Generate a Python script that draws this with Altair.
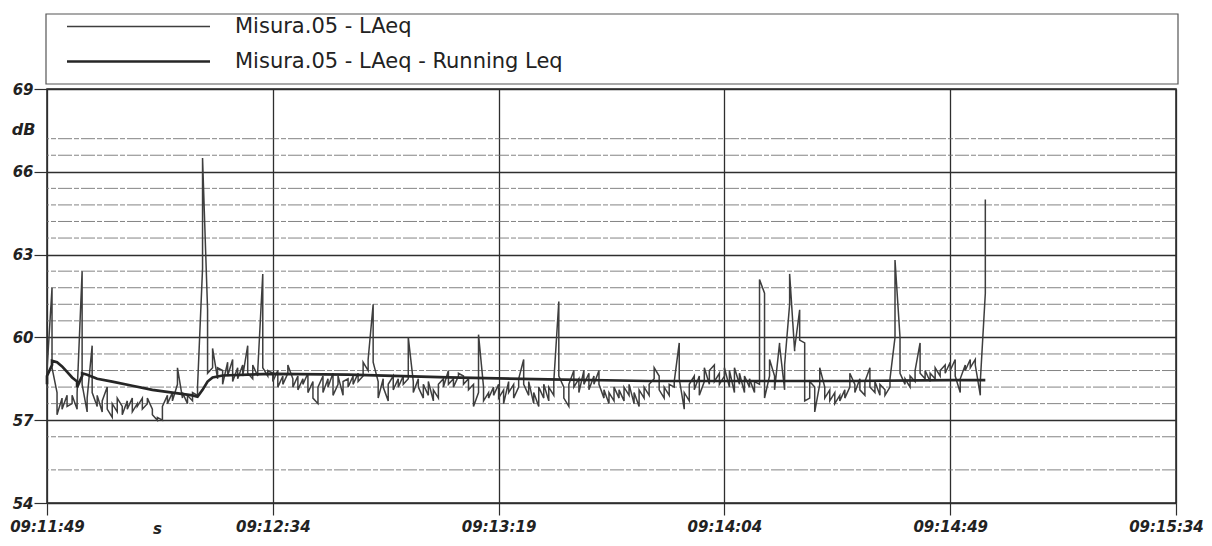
import altair as alt
import pandas as pd

# ---------------- data ----------------
TICK_LABELS = ["09:11:49", "09:12:34", "09:13:19", "09:14:04", "09:14:49", "09:15:34"]
Y_TICKS = [54, 57, 60, 63, 66, 69]
MINOR_GRID = [55.2, 56.4, 57.6, 58.2, 58.8, 59.4, 60.6, 61.2, 61.8, 62.4,
              63.6, 64.2, 64.8, 65.4, 66.6, 67.2]
SERIES = ["Misura.05 - LAeq", "Misura.05 - LAeq - Running Leq"]
STEP_S = 0.5  # sampling interval of the LAeq series (s)

LAEQ = [
    58.3, 58.8, 61.8, 58.9, 58.0, 57.2, 57.8, 57.4, 57.9, 57.5,
    57.6, 57.9, 57.4, 58.0, 62.4, 58.3, 57.3, 57.8, 59.7, 58.0,
    57.5, 57.9, 57.3, 57.7, 58.2, 57.4, 57.1, 57.6, 57.3, 57.8,
    57.5, 57.2, 57.7, 57.4, 57.8, 57.3, 57.6, 57.5, 57.8, 57.4,
    57.6, 57.8, 57.4, 57.2, 57.0, 57.1, 57.0, 57.5, 57.9, 57.6,
    58.0, 57.7, 58.3, 58.9, 57.8, 58.0, 57.6, 57.9, 57.7, 58.0,
    57.9, 58.2, 62.5, 66.5, 61.0, 58.7, 58.9, 59.6, 58.5, 58.9,
    58.8, 58.3, 59.1, 58.6, 59.2, 58.4, 58.9, 58.5, 59.0, 58.6,
    59.7, 58.7, 58.5, 59.0, 58.6, 58.8, 62.3, 58.9, 58.6, 58.8,
    58.7, 58.4, 58.8, 58.2, 58.6, 58.3, 58.7, 59.0, 58.5, 58.2,
    58.6, 58.1, 58.5, 58.3, 58.7, 58.0, 58.4, 57.8, 57.6, 58.2,
    58.6, 58.0, 58.5, 58.2, 58.7, 57.9, 58.3, 58.6, 57.9, 58.4,
    58.5, 58.2, 58.6, 58.3, 58.7, 58.4, 58.6, 59.1, 58.8, 59.2,
    61.2, 59.1, 58.4, 57.8, 58.5, 58.2, 57.7, 58.3, 58.6, 58.1,
    58.5, 58.2, 58.6, 58.3, 58.5, 60.0, 58.4, 58.0, 58.5, 58.2,
    57.8, 58.3, 57.9, 58.4, 57.7, 58.1, 57.8, 58.3, 58.5, 58.2,
    58.8, 58.3, 58.5, 58.2, 58.6, 58.7, 58.6, 58.3, 58.5, 58.1,
    58.3, 57.5, 58.0, 60.1, 58.2, 57.7, 58.0, 57.8, 58.2, 57.9,
    58.3, 57.8, 58.1, 57.6, 58.4, 58.0, 58.3, 57.8, 58.2, 58.5,
    59.2, 58.3, 57.9, 58.4, 57.6, 58.0, 57.5, 58.2, 57.8, 58.3,
    57.7, 58.2, 57.9, 58.4, 61.3, 58.6, 58.2, 57.8, 57.5, 58.3,
    58.8, 58.2, 58.5, 58.0, 58.8, 58.3, 58.7, 58.1, 58.6, 58.3,
    58.8, 58.3, 57.8, 58.1, 57.6, 58.0, 57.7, 58.2, 57.8, 58.1,
    57.7, 58.2, 57.9, 58.3, 57.6, 58.0, 57.5, 58.1, 57.8, 58.2,
    57.9, 58.3, 58.5, 58.9, 58.6, 58.1, 57.8, 58.2, 57.9, 58.3,
    58.2, 58.4, 59.8, 58.5, 57.4, 58.0, 57.7, 58.3, 58.6, 58.1,
    58.6, 57.9, 58.4, 58.9, 58.3, 58.8, 59.0, 58.4, 58.7, 58.3,
    58.6, 58.9, 58.2, 58.8, 58.0, 58.9, 58.3, 58.7, 58.0, 58.6,
    58.2, 58.5, 58.0, 58.4, 58.3, 62.1, 61.6, 57.8, 58.6, 59.2,
    58.6, 58.1, 59.8, 59.7, 58.1, 59.0, 61.2, 62.3, 59.5, 59.6,
    61.0, 59.9, 59.8, 57.7, 57.8, 58.4, 58.2, 57.3, 58.3, 58.9,
    58.2, 57.8, 58.1, 57.7, 58.0, 57.6, 57.9, 57.7, 58.1, 57.8,
    58.2, 58.7, 58.3, 58.0, 58.5, 58.1, 57.9, 58.4, 58.9, 58.2,
    58.0, 58.4, 57.9, 58.3, 58.1, 57.9, 58.2, 58.5, 60.0, 62.8,
    60.0, 58.7, 58.3, 58.5, 58.2, 58.6, 58.4, 58.8, 59.8, 58.7,
    58.5, 58.8, 58.4, 58.7, 58.5, 58.9, 58.6, 58.8, 59.0, 58.7,
    59.1, 58.8, 59.2, 58.6, 58.0, 58.5, 59.0, 58.8, 59.2, 58.9,
    59.2, 59.0, 57.9, 58.4, 61.6, 65.0,
]

RL_T = [0, 0.5, 1.0, 1.5, 2.0, 3.0, 4.0, 5.0, 6.0, 6.5, 7.0, 7.5, 8.5, 10, 13, 17,
        21, 25, 29, 30.5, 31.5, 32.5, 33.5, 35, 45, 60, 80, 100, 120, 140, 160, 180, 187.5]
RL_V = [58.3, 58.6, 59.0, 59.15, 59.1, 58.95, 58.75, 58.55, 58.4, 58.2, 58.6, 58.7,
        58.65, 58.5, 58.4, 58.25, 58.1, 58.0, 57.9, 57.85, 58.1, 58.4, 58.55, 58.62,
        58.68, 58.65, 58.55, 58.48, 58.42, 58.42, 58.42, 58.45, 58.45]

# ---------------- tables ----------------
DAY = "2000-01-01"
t0 = pd.Timestamp(f"{DAY} {TICK_LABELS[0]}")
laeq = pd.DataFrame({
    "time": [t0 + pd.Timedelta(seconds=i * STEP_S) for i in range(len(LAEQ))],
    "value": LAEQ,
    "series": SERIES[0],
})
run = pd.DataFrame({
    "time": [t0 + pd.Timedelta(seconds=s) for s in RL_T],
    "value": RL_V,
    "series": SERIES[1],
})
df = pd.concat([laeq, run], ignore_index=True)
df["time"] = df["time"].dt.strftime("%Y-%m-%dT%H:%M:%S")


def dt(label):
    h, m, s = (int(p) for p in label.split(":"))
    return alt.DateTime(year=2000, month=1, date=1, hours=h, minutes=m, seconds=s)


TICK_DT = [dt(l) for l in TICK_LABELS]

W, H = 1129, 414
FONT = "DejaVu Sans"
INK = "#222222"
GRID = "#2e2e2e"

y_scale = alt.Scale(domain=[Y_TICKS[0], Y_TICKS[-1]], nice=False, zero=False)
y_axis = alt.Axis(
    values=Y_TICKS, title="dB", titleAngle=0, titleX=-24, titleY=40,
    titleAlign="center", titleBaseline="middle", titleFont=FONT,
    titleFontSize=16, titleFontStyle="italic", titleFontWeight="bold",
    titleColor=INK, labelFont=FONT, labelFontSize=15, labelFontStyle="italic",
    labelFontWeight="bold", labelColor=INK, tickSize=13, labelPadding=1,
    tickColor=GRID, tickWidth=1.2, grid=True, gridColor=GRID, gridWidth=1.3,
    domain=False,
)
x_scale = alt.Scale(domain=[TICK_DT[0], TICK_DT[-1]], nice=False)
x_axis = alt.Axis(
    values=TICK_DT, format="%H:%M:%S", title="s", titleX=110, titleY=30,
    titleAlign="center", titleBaseline="alphabetic", titleFont=FONT,
    titleFontSize=15, titleFontStyle="italic", titleFontWeight="bold",
    titleColor=INK, labelFont=FONT, labelFontSize=15, labelFontStyle="italic",
    labelFontWeight="bold", labelColor=INK, labelFlush=False, labelOverlap=False,
    labelBound=False, tickSize=12, labelPadding=4, tickColor=GRID, tickWidth=1.2,
    labelOffset={"condition": [{"test": "datum.index === 1", "value": -10}],
                 "value": 0},
    grid=True, gridColor=GRID, gridWidth=1.3, domain=False,
)

minor = alt.Chart(pd.DataFrame({"v": MINOR_GRID})).mark_rule(
    color="#6f6f6f", strokeWidth=1, strokeDash=[14, 2, 5, 2], opacity=0.85
).encode(y=alt.Y("v:Q", scale=y_scale, axis=y_axis))

legend = alt.Legend(
    title=None, orient="none", legendX=81, legendY=-73, padding=0,
    symbolType="M-14.3,0H14.3", symbolSize=100, labelFont=FONT,
    labelFontSize=21, labelColor=INK, labelOffset=86, rowPadding=13,
    labelLimit=800,
)
lines = alt.Chart(df).mark_line(interpolate="linear").encode(
    x=alt.X("time:T", scale=x_scale, axis=x_axis),
    y=alt.Y("value:Q", scale=y_scale, axis=y_axis),
    color=alt.Color("series:N", scale=alt.Scale(domain=SERIES, range=["#3e3e3e", "#262626"]),
                    legend=legend),
    strokeWidth=alt.StrokeWidth("series:N", scale=alt.Scale(domain=SERIES, range=[1.5, 2.7]),
                                legend=legend),
)

frame = alt.Chart(pd.DataFrame({"a": [0]})).mark_rect(
    fillOpacity=0, stroke="#555555", strokeWidth=1.2
).encode(x=alt.value(-1), x2=alt.value(W + 2), y=alt.value(-75), y2=alt.value(-5))

chart = alt.layer(minor, lines, frame).properties(
    width=W, height=H,
    autosize=alt.AutoSizeParams(type="none"),
    padding={"left": 39, "top": 81, "right": 28, "bottom": 35},
).configure_view(stroke="#222222", strokeWidth=1.5)

chart.save("out.html", embed_options={"renderer": "svg", "actions": False})
